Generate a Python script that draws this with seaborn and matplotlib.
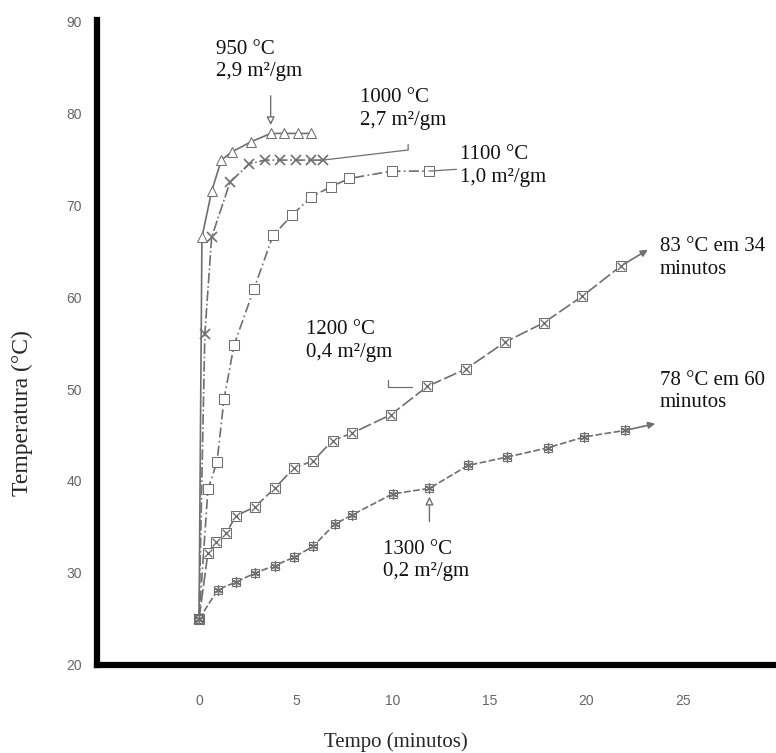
import numpy as np
import pandas as pd
import seaborn as sns
import matplotlib.pyplot as plt

# curves (time in minutes, temperature in C)
t_950 = [0, 0.15, 0.65, 1.15, 1.7, 2.7, 3.7, 4.4, 5.1, 5.8]
T_950 = [25, 66.5, 71.5, 74.9, 75.8, 76.9, 77.8, 77.8, 77.8, 77.8]

t_1000 = [0, 0.3, 0.65, 1.6, 2.6, 3.4, 4.2, 5.0, 5.8, 6.4]
T_1000 = [25, 56, 66.5, 72.5, 74.5, 74.9, 74.9, 74.9, 74.9, 74.9]

t_1100 = [0, 0.46, 0.93, 1.29, 1.81, 2.84, 3.82, 4.8, 5.79, 6.82, 7.75, 9.97, 11.88]
T_1100 = [25, 39.1, 42.1, 48.9, 54.8, 60.9, 66.7, 68.9, 70.9, 72.0, 72.9, 73.7, 73.7]

t_1200 = [0, 0.46, 0.9, 1.4, 1.9, 2.9, 3.9, 4.9, 5.9, 6.9, 7.9, 9.9, 11.8,
          13.8, 15.8, 17.8, 19.8, 21.8, 23.3]
T_1200 = [25, 32.2, 33.4, 34.3, 36.2, 37.2, 39.2, 41.4, 42.2, 44.4, 45.2, 47.2,
          50.3, 52.2, 55.1, 57.2, 60.1, 63.4, 65.3]

t_1300 = [0, 0.98, 1.9, 2.9, 3.9, 4.9, 5.9, 7.0, 7.9, 10.0, 11.9, 13.9, 15.9,
          18.0, 19.9, 22.0, 23.7]
T_1300 = [25, 28.2, 29.0, 30.0, 30.8, 31.7, 32.9, 35.3, 36.3, 38.6, 39.2, 41.7,
          42.6, 43.6, 44.8, 45.5, 46.3]

x_ticks = [0, 5, 10, 15, 20, 25]
y_ticks = [20, 30, 40, 50, 60, 70, 80, 90]

labels = {
    "950": "950 °C\n2,9 m²/gm",
    "1000": "1000 °C\n2,7 m²/gm",
    "1100": "1100 °C\n1,0 m²/gm",
    "1200": "1200 °C\n0,4 m²/gm",
    "1300": "1300 °C\n0,2 m²/gm",
    "end1200": "83 °C em 34\nminutos",
    "end1300": "78 °C em 60\nminutos",
}

sns.set_style("white")
plt.rcParams['font.family'] = ['Liberation Serif', 'DejaVu Serif']

fig = plt.figure(figsize=(7.76, 7.53), dpi=100)
ax = fig.add_axes([0.125, 0.117, 0.875, 0.856])

gray = "#6f6f6f"
ms = 7

sns.lineplot(x=t_950, y=T_950, ax=ax, color=gray, lw=1.2, marker="^", ms=ms,
             mfc="white", mec=gray, estimator=None)
sns.lineplot(x=t_1000, y=T_1000, ax=ax, color=gray, lw=1.2, ls="-.", marker="x",
             ms=ms, mec=gray, mew=1.2, estimator=None)
sns.lineplot(x=t_1100, y=T_1100, ax=ax, color=gray, lw=1.2, ls=(0, (6, 2, 1, 2)),
             marker="s", ms=ms, mfc="white", mec=gray, estimator=None)
sns.lineplot(x=t_1200[:-1], y=T_1200[:-1], ax=ax, color=gray, lw=1.2,
             ls=(0, (8, 2)), marker="s", ms=ms, mfc="white", mec=gray,
             estimator=None)
sns.scatterplot(x=t_1200[:-1], y=T_1200[:-1], ax=ax, marker="x", s=30,
                color=gray, linewidth=1, zorder=3)
sns.lineplot(x=t_1300[:-1], y=T_1300[:-1], ax=ax, color=gray, lw=1.2,
             ls=(0, (4, 1.5)), marker="s", ms=6, mfc="white", mec=gray,
             estimator=None)
sns.scatterplot(x=t_1300[:-1], y=T_1300[:-1], ax=ax, marker=(6, 2, 0), s=45,
                color=gray, linewidth=1, zorder=3)

# arrow heads at the end of the long curves
for tt, TT in [(t_1200, T_1200), (t_1300, T_1300)]:
    ax.annotate("", xy=(tt[-1], TT[-1]), xytext=(tt[-2], TT[-2]),
                arrowprops=dict(arrowstyle="-|>", color=gray, lw=1.2,
                                mutation_scale=10))

txt = dict(fontsize=15, va="top", ha="left", linespacing=1.25, color="#111")
ax.text(0.88, 88.0, labels["950"], **txt)
ax.text(8.3, 82.7, labels["1000"], **txt)
ax.text(13.5, 76.5, labels["1100"], **txt)
ax.text(5.5, 57.5, labels["1200"], **txt)
ax.text(23.8, 66.5, labels["end1200"], **txt)
ax.text(23.8, 52.0, labels["end1300"], **txt)
ax.text(9.5, 33.6, labels["1300"], **txt)

# leader lines / pointers
ax.annotate("", xy=(t_950[6], T_950[6] + 0.6), xytext=(t_950[6], 82.2),
            arrowprops=dict(arrowstyle="-|>", color=gray, lw=1, fc="white",
                            mutation_scale=12))
ax.plot([t_1000[-1], 10.8, 10.8], [T_1000[-1], 76.0, 76.6], color=gray, lw=0.9)
ax.plot([t_1100[-1], 13.3], [T_1100[-1], 73.9], color=gray, lw=0.9)
ax.plot([9.76, 9.76, 11.0], [51.0, 50.2, 50.2], color=gray, lw=0.9)
ax.annotate("", xy=(t_1300[10], T_1300[10] - 0.6), xytext=(t_1300[10], 35.3),
            arrowprops=dict(arrowstyle="-|>", color=gray, lw=1, fc="white",
                            mutation_scale=12))

ax.set_xlim(-5.27, 29.8)
ax.set_ylim(20, 90.1)
ax.set_xticks(x_ticks)
ax.set_yticks(y_ticks)
ax.tick_params(axis="both", direction="out", length=4, width=1, color="#888",
               labelcolor="#666", labelsize=10)
ax.tick_params(axis="x", pad=17)
ax.tick_params(axis="y", pad=7)
for lab in ax.get_xticklabels() + ax.get_yticklabels():
    lab.set_family("Liberation Sans")

sns.despine(ax=ax)
for side in ["left", "bottom"]:
    ax.spines[side].set_linewidth(4.5)
    ax.spines[side].set_color("black")

ax.set_xlabel("Tempo (minutos)", fontsize=15)
ax.set_ylabel("Temperatura (°C)", fontsize=17)
ax.xaxis.set_label_coords(0.44, -0.105)
ax.yaxis.set_label_coords(-0.094, 0.39)

fig.savefig("out.png", dpi=100)
